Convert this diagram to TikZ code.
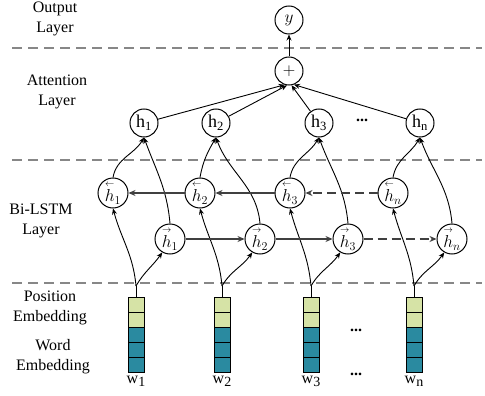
\documentclass[tikz,border=0pt]{standalone}
\usepackage{fontspec}
\setmainfont{Liberation Serif}
\usepackage{amsmath}
\usetikzlibrary{arrows.meta, positioning}
\definecolor{PosGreen}{RGB}{214,227,166}
\definecolor{WordBlue}{RGB}{42,138,160}
\definecolor{SepGray}{RGB}{135,135,135}

\begin{document}
\begin{tikzpicture}[x=1pt, y=1pt,
	every node/.style={font=\fontsize{16}{20}\selectfont},
	unit/.style={circle, draw, line width=1pt, minimum size=28pt, inner sep=0pt, font=\fontsize{18}{20}\selectfont},
	lstm/.style={unit, minimum size=30pt},
	layerlabel/.style={align=center},
	conn/.style={-{Stealth[length=6pt,width=5pt]}, line width=0.9pt},
	flow/.style={-{Stealth[length=7pt,width=6pt]}, line width=1.3pt, black!75},
	sep/.style={SepGray, line width=1.2pt, dash pattern=on 10pt off 6pt}]
	\useasboundingbox (0,0) rectangle (485,-396);
	% separadores de capas
	\foreach \py in {48,160,283}{
		\draw[sep] (12,-\py) -- (482,-\py);
	}
	% etiquetas de capa
	\node[layerlabel] (lout) at (55,-19) {Output\\Layer};
	\node[layerlabel] (latt) at (57,-92) {Attention\\Layer};
	\node[layerlabel] (lbi) at (41,-221) {Bi-LSTM\\Layer};
	\node[layerlabel] (lpos) at (50,-308) {Position\\Embedding};
	\node[layerlabel] (lword) at (53,-357) {Word\\Embedding};
	% salida y suma
	\node[unit] (y) at (289,-20) {$y$};
	\node[unit] (sum) at (289,-71) {$+$};
	% capa de atencion
	\foreach \i/\px/\s in {1/144/1, 2/216/2, 3/319/3, 4/420/n}{
		\node[unit] (a\i) at (\px,-123) {h\textsubscript{\s}};
	}
	\node (adots) at (362,-120) {\textbf{...}};
	% Bi-LSTM: hacia atras y hacia delante
	\foreach \i/\px/\s in {1/113/1, 2/200/2, 3/290/3, 4/393/n}{
		\node[lstm] (b\i) at (\px,-193) {$\overset{\scriptscriptstyle\leftarrow}{h}_{\s}$};
	}
	\foreach \i/\px/\s in {1/170/1, 2/260/2, 3/348/3, 4/452/n}{
		\node[lstm] (f\i) at (\px,-239) {$\overset{\scriptscriptstyle\rightarrow}{h}_{\s}$};
	}
	% columnas de embeddings
	\foreach \i/\px/\s in {1/136/1, 2/222/2, 3/311/3, 4/414/n}{
		\foreach \j/\col in {0/PosGreen, 1/PosGreen, 2/WordBlue, 3/WordBlue, 4/WordBlue}
			\filldraw[fill=\col, draw=black, line width=0.8pt] (\px-8,-297-15*\j) rectangle ++(16,-15);
		\draw[line width=1pt] (\px-8,-297) rectangle (\px+8,-372);
		\coordinate (e\i) at (\px,-297);
		\coordinate (s\i) at (\px,-286);
		\node (w\i) at (\px,-381) {w\raisebox{-3pt}{\fontsize{14}{14}\selectfont\s}};
	}
	\node (edots) at (356,-330) {\textbf{...}};
	\node (wdots) at (356,-374) {\textbf{...}};
	% conexiones verticales
	\foreach \i in {1,...,4}{
		\draw[line width=0.9pt] (e\i) -- (s\i);
		\draw[conn] (s\i) to[out=95, in=-75] (b\i.south);
		\draw[conn] (s\i) to[out=60, in=-125] (f\i.-120);
		\draw[conn] (b\i.north) to[out=80, in=-120] (a\i.south);
		\draw[conn] (f\i.north) to[out=95, in=-70] (a\i.south);
	}
	% recurrencias
	\draw[flow] (b2) -- (b1);
	\draw[flow] (b3) -- (b2);
	\draw[flow, dash pattern=on 9pt off 5pt] (b4) -- (b3);
	\draw[flow] (f1) -- (f2);
	\draw[flow] (f2) -- (f3);
	\draw[flow, dash pattern=on 9pt off 5pt] (f3) -- (f4);
	% atencion hacia la suma y salida
	\foreach \i/\ang in {1/-108, 2/-98, 3/-80, 4/-70}{
		\draw[conn] (a\i) -- (sum.\ang);
	}
	\draw[conn] (sum) -- (y);
\end{tikzpicture}
\end{document}
